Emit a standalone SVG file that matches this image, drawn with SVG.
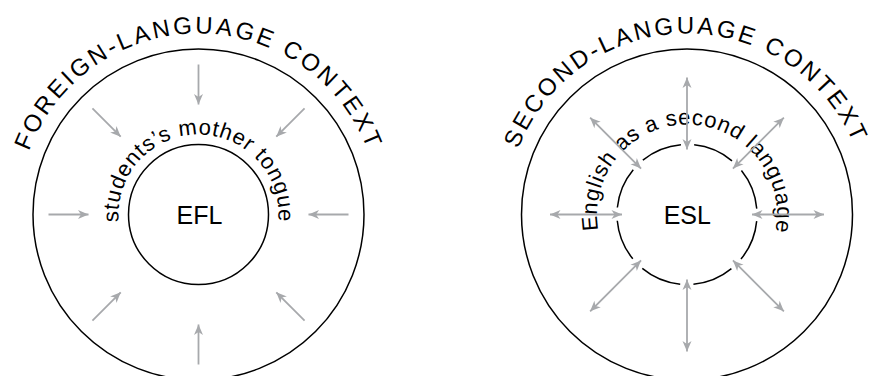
<svg xmlns="http://www.w3.org/2000/svg" width="871" height="376" viewBox="0 0 871 376">
<style>
.ring{fill:none;stroke:#000;stroke-width:1.5}
.gap{stroke-dasharray:41.54 13.44;stroke-dashoffset:-6.72}
.arr{stroke:#a7a9ac;stroke-width:1.8;fill:none}
.in{marker-end:url(#head)}
.both{marker-start:url(#head);marker-end:url(#head)}
.outer{font-family:"Liberation Sans",Arial,sans-serif;font-size:24px;letter-spacing:2.8px;fill:#000}
.inner{font-family:"Liberation Sans",Arial,sans-serif;font-size:22px;letter-spacing:0.8px;fill:#000}
.core{font-family:"Liberation Sans",Arial,sans-serif;font-size:25px;fill:#000;text-anchor:middle}
</style>
<defs>
<marker id="head" markerUnits="userSpaceOnUse" markerWidth="14" markerHeight="12" viewBox="-11 -6 12 12" refX="0" refY="0" orient="auto-start-reverse">
<path d="M0,0 L-10.5,-4.5 L-7.5,0 L-10.5,4.5 Z" fill="#a7a9ac"/>
</marker>
<path id="pLo" d="M198.5,395.5 A181,181 0 1 1 198.5,33.5 A181,181 0 1 1 198.5,395.5"/>
<path id="pLi" d="M198.5,294.5 A80,80 0 1 1 198.5,134.5 A80,80 0 1 1 198.5,294.5"/>
<path id="pRo" d="M687,395.5 A181,181 0 1 1 687,33.5 A181,181 0 1 1 687,395.5"/>
<path id="pRi" d="M687,304.5 A90,90 0 1 1 687,124.5 A90,90 0 1 1 687,304.5"/>
</defs>

<g id="foreign-language-context">
<circle class="ring" cx="198.5" cy="214.5" r="165.5"/>
<text class="outer" text-anchor="middle"><textPath href="#pLo" startOffset="50%">FOREIGN-LANGUAGE CONTEXT</textPath></text>
</g>
<g id="efl">
<circle class="ring" cx="198.5" cy="214.5" r="70"/>
<text class="inner" text-anchor="middle"><textPath href="#pLi" startOffset="50%">students’s mother tongue</textPath></text>
<text class="core" x="199.5" y="223.5">EFL</text>
</g>

<g id="second-language-context">
<circle class="ring" cx="687" cy="214.5" r="165.5"/>
<text class="outer" text-anchor="middle"><textPath href="#pRo" startOffset="49.8%">SECOND-LANGUAGE CONTEXT</textPath></text>
</g>
<g id="esl">
<circle class="ring gap" cx="687" cy="214.5" r="70"/>
<text class="inner" text-anchor="middle"><textPath href="#pRi" startOffset="50.2%">English as a second language</textPath></text>
<text class="core" x="687.3" y="224">ESL</text>
</g>

<g id="connectors">
<line class="arr in" x1="198.5" y1="64.5" x2="198.5" y2="104.5"/>
<line class="arr in" x1="304.57" y1="108.43" x2="276.28" y2="136.72"/>
<line class="arr in" x1="348.5" y1="214.5" x2="308.5" y2="214.5"/>
<line class="arr in" x1="304.57" y1="320.57" x2="276.28" y2="292.28"/>
<line class="arr in" x1="198.5" y1="364.5" x2="198.5" y2="324.5"/>
<line class="arr in" x1="92.43" y1="320.57" x2="120.72" y2="292.28"/>
<line class="arr in" x1="48.5" y1="214.5" x2="88.5" y2="214.5"/>
<line class="arr in" x1="92.43" y1="108.43" x2="120.72" y2="136.72"/>

<line class="arr both" x1="687" y1="149.5" x2="687" y2="77.5"/>
<line class="arr both" x1="732.96" y1="168.54" x2="783.87" y2="117.63"/>
<line class="arr both" x1="752" y1="214.5" x2="824" y2="214.5"/>
<line class="arr both" x1="732.96" y1="260.46" x2="783.87" y2="311.37"/>
<line class="arr both" x1="687" y1="279.5" x2="687" y2="351.5"/>
<line class="arr both" x1="641.04" y1="260.46" x2="590.13" y2="311.37"/>
<line class="arr both" x1="622" y1="214.5" x2="550" y2="214.5"/>
<line class="arr both" x1="641.04" y1="168.54" x2="590.13" y2="117.63"/>
</g>
</svg>
